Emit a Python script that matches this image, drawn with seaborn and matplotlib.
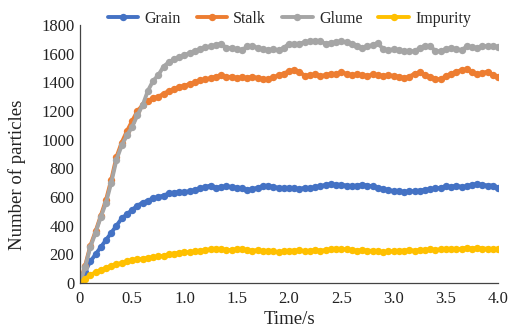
import numpy as np
import pandas as pd
import matplotlib
matplotlib.use("Agg")
import matplotlib.pyplot as plt
import seaborn as sns

time_s = np.round(np.arange(0, 4.0001, 0.05), 2)

grain = [0, 80, 150, 200, 250, 300, 350, 400, 450, 480,
         510, 540, 560, 575, 590, 600, 610, 625, 630, 635,
         635, 640, 650, 660, 670, 680, 665, 670, 675, 670,
         665, 660, 650, 655, 665, 675, 680, 670, 665, 660,
         665, 660, 655, 665, 660, 670, 675, 685, 690, 685,
         685, 680, 675, 680, 685, 680, 675, 665, 655, 650,
         640, 640, 635, 640, 640, 645, 650, 655, 660, 665,
         675, 670, 680, 670, 675, 685, 690, 685, 680, 680,
         665]

stalk = [0, 120, 260, 360, 470, 580, 720, 880, 980, 1060,
         1130, 1200, 1240, 1270, 1290, 1300, 1320, 1340, 1350, 1370,
         1375, 1390, 1400, 1415, 1420, 1430, 1440, 1450, 1435, 1440,
         1430, 1435, 1430, 1440, 1430, 1425, 1420, 1435, 1450, 1460,
         1480, 1485, 1475, 1445, 1450, 1455, 1445, 1450, 1460, 1455,
         1470, 1460, 1450, 1455, 1450, 1445, 1455, 1450, 1445, 1450,
         1445, 1440, 1430, 1440, 1460, 1470, 1450, 1440, 1425, 1420,
         1445, 1460, 1475, 1485, 1490, 1470, 1455, 1465, 1475, 1450,
         1440]

glume = [0, 110, 250, 350, 460, 560, 700, 860, 960, 1030,
         1090, 1170, 1240, 1340, 1410, 1450, 1510, 1540, 1560, 1575,
         1590, 1605, 1620, 1630, 1645, 1650, 1660, 1670, 1640, 1640,
         1630, 1625, 1650, 1655, 1640, 1630, 1625, 1630, 1625, 1640,
         1670, 1665, 1670, 1680, 1685, 1690, 1685, 1670, 1675, 1680,
         1685, 1680, 1670, 1655, 1640, 1650, 1660, 1675, 1630, 1625,
         1630, 1625, 1615, 1620, 1615, 1640, 1655, 1650, 1620, 1615,
         1630, 1640, 1630, 1625, 1650, 1645, 1640, 1655, 1650, 1655,
         1645]

impurity = [0, 30, 55, 75, 90, 105, 120, 130, 140, 150,
            160, 165, 170, 175, 180, 185, 190, 200, 205, 210,
            215, 215, 220, 225, 230, 235, 240, 235, 230, 230,
            235, 235, 230, 225, 230, 220, 225, 220, 215, 220,
            225, 225, 230, 220, 225, 230, 225, 230, 235, 240,
            235, 235, 230, 225, 230, 225, 225, 220, 215, 220,
            220, 225, 225, 230, 225, 230, 230, 235, 230, 235,
            235, 240, 235, 240, 245, 240, 245, 240, 240, 235,
            235]

series_names = ["Grain", "Stalk", "Glume", "Impurity"]
series_values = [grain, stalk, glume, impurity]
colors = ["#4472C4", "#ED7D31", "#A5A5A5", "#FFC000"]

x_ticks = [0, 0.5, 1.0, 1.5, 2.0, 2.5, 3.0, 3.5, 4.0]
x_tick_labels = ["0", "0.5", "1.0", "1.5", "2.0", "2.5", "3.0", "3.5", "4.0"]
y_ticks = [0, 200, 400, 600, 800, 1000, 1200, 1400, 1600, 1800]

sns.set_style("white")
plt.rcParams["font.family"] = ["Liberation Serif", "DejaVu Serif"]

fig = plt.figure(figsize=(5.12, 3.27), dpi=100)
ax = fig.add_axes([0.156, 0.1346, 0.817, 0.789])

frames = []
for name, vals in zip(series_names, series_values):
    frames.append(pd.DataFrame({"Time": time_s, "Count": vals, "Series": name}))
df = pd.concat(frames, ignore_index=True)

for name, col in zip(series_names, colors):
    sub = df[df["Series"] == name]
    sns.lineplot(data=sub, x="Time", y="Count", ax=ax, color=col,
                 marker="o", markersize=5.3, markeredgewidth=0,
                 linewidth=2.8, label=name, legend=False)

ax.set_xlim(0, 4.0)
ax.set_ylim(0, 1800)
ax.set_xticks(x_ticks)
ax.set_xticklabels(x_tick_labels)
ax.set_yticks(y_ticks)
ax.tick_params(axis="both", direction="in", labelsize=12, colors="#222222",
               length=3.5, width=0.9)
ax.tick_params(axis="x", pad=6)
ax.tick_params(axis="y", pad=4)
for s in ["top", "right"]:
    ax.spines[s].set_visible(False)
for s in ["left", "bottom"]:
    ax.spines[s].set_color("#444444")
    ax.spines[s].set_linewidth(0.9)

ax.set_xlabel("Time/s", fontsize=13.5, labelpad=3, color="#222222")
ax.set_ylabel("Number of particles", fontsize=13.5, color="#222222")
ax.yaxis.set_label_coords(-0.128, 0.42)

handles, labels = ax.get_legend_handles_labels()
fig.legend(handles, labels, loc="center", ncol=4, bbox_to_anchor=(0.565, 0.943),
           frameon=False, fontsize=11.5, handlelength=1.9, columnspacing=1.0,
           handletextpad=0.4, borderaxespad=0)

fig.savefig("out.png", dpi=100)
